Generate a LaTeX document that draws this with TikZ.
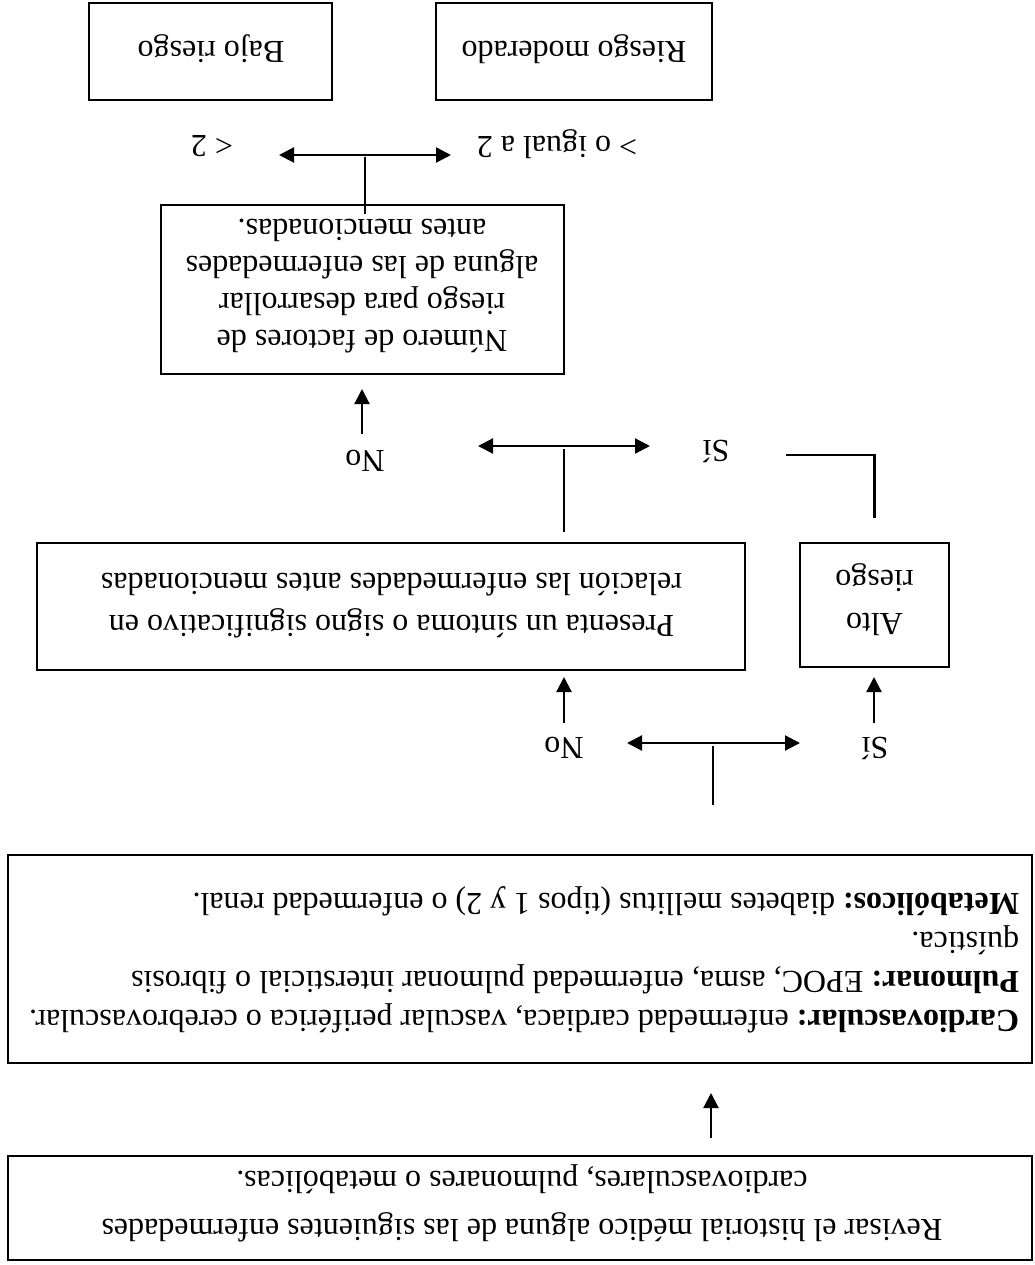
\documentclass[tikz,border=0pt]{standalone}
\usepackage{fontspec}
\setmainfont{Liberation Serif}
\usetikzlibrary{arrows.meta,calc}
\begin{document}
\frenchspacing
\begin{tikzpicture}[x=1pt,y=-1pt,
  box/.style={draw, line width=2.4pt, inner sep=0pt, outer sep=0pt},
  txt/.style={rotate=180, inner sep=0pt, outer sep=0pt, font=\fontsize{32}{37}\selectfont},
  ln/.style={line width=2.2pt},
  arr/.style={line width=2.2pt, -{Triangle[length=15pt,width=15pt]}},
  dbl/.style={line width=2.2pt, {Triangle[length=15pt,width=15pt]}-{Triangle[length=15pt,width=15pt]}}]
\useasboundingbox (0,0) rectangle (1034,1265);

% boxes
\node[box, minimum width=1024pt, minimum height=104pt] (b1) at (520,1208) {};
\node[box, minimum width=1024pt, minimum height=208pt] (b2) at (520,959) {};
\node[box, minimum width=708pt, minimum height=127pt] (b3) at (391,606.5) {};
\node[box, minimum width=149pt, minimum height=124pt] (b4) at (874.5,605) {};
\node[box, minimum width=403pt, minimum height=169pt] (b5) at (362.5,289.5) {};
\node[box, minimum width=243pt, minimum height=97pt] (b6) at (210.5,51.5) {};
\node[box, minimum width=276pt, minimum height=97pt] (b7) at (574,51.5) {};

% texts
\node[txt, align=center, font=\fontsize{32}{48}\selectfont] (t1) at (522,1204.6)
  {\strut Revisar el historial médico alguna de las siguientes enfermedades\\cardiovasculares, pulmonares o metabólicas.\strut};
\node[txt, anchor=west, align=left, font=\fontsize{32}{39}\selectfont] (t2) at (1019,959.3)
  {\strut\textbf{Cardiovascular:} enfermedad cardiaca, vascular periférica o cerebrovascular.\\
   \textbf{Pulmonar:} EPOC, asma, enfermedad pulmonar intersticial o fibrosis\\
   quística.\\
   \textbf{Metabólicos:} diabetes mellitus (tipos 1 y 2) o enfermedad renal.\strut};
\node[txt, align=center, font=\fontsize{32}{42}\selectfont] (t3) at (391.5,602.4)
  {\strut Presenta un síntoma o signo significativo en\\relación las enfermedades antes mencionadas\strut};
\node[txt, align=center, font=\fontsize{32}{43}\selectfont] (t4) at (874.5,600.1)
  {\strut Alto\\riesgo\strut};
\node[txt, align=center, font=\fontsize{32}{36.7}\selectfont] (t5) at (362,282.3)
  {\strut Número de factores de\\riesgo para desarrollar\\alguna de las enfermedades\\antes mencionadas.\strut};
\node[txt, anchor=base] (t6) at (211,42) {Bajo riesgo};
\node[txt, anchor=base] (t7) at (574,42) {Riesgo moderado};

% step 1 -> 2
\draw[arr, shorten <=18pt, shorten >=30pt] ($(b1.north)+(191,0)$) -- ($(b2.south)+(191,0)$);

% decision 1
\coordinate (q1) at (713,805);
\coordinate (q1t) at (713,746);
\coordinate (h1l) at (627,743);
\coordinate (h1r) at (800,743);
\draw[ln] (q1) -- (q1t);
\draw[dbl] (h1l) -- (h1r);
\node[txt, anchor=base] (si1) at (875,737) {Sí};
\node[txt, anchor=base] (no1) at (564,737) {No};
\coordinate (s1a) at (874,723);
\coordinate (s1b) at (564,723);
\draw[arr, shorten >=10pt] (s1a) -- (b4.south -| s1a);
\draw[arr, shorten >=7pt] (s1b) -- (b3.south -| s1b);

% decision 2
\coordinate (p3) at (786,455);
\draw[ln, shorten <=25pt] (b4.north) |- (p3);
\coordinate (q2) at (564,449);
\draw[ln, shorten <=11pt] (b3.north -| q2) -- (q2);
\coordinate (h2l) at (478,446);
\coordinate (h2r) at (650,446);
\draw[dbl] (h2l) -- (h2r);
\node[txt, anchor=base] (si2) at (716,440) {Sí};
\node[txt, anchor=base] (no2) at (365,450) {No};
\coordinate (s2) at (362,434);
\draw[arr, shorten >=15pt] (s2) -- (b5.south -| s2);

% decision 3
\coordinate (q3) at (365,157);
\draw[ln] ($(b5.north -| q3)+(0,9)$) -- (q3);
\coordinate (h3l) at (279,155);
\coordinate (h3r) at (451,155);
\draw[dbl] (h3l) -- (h3r);
\node[txt, anchor=base] (lt2) at (212,136) {\textless{} 2};
\node[txt, anchor=base] (ge2) at (557,137) {\textgreater{} o igual a 2};
\end{tikzpicture}
\end{document}
